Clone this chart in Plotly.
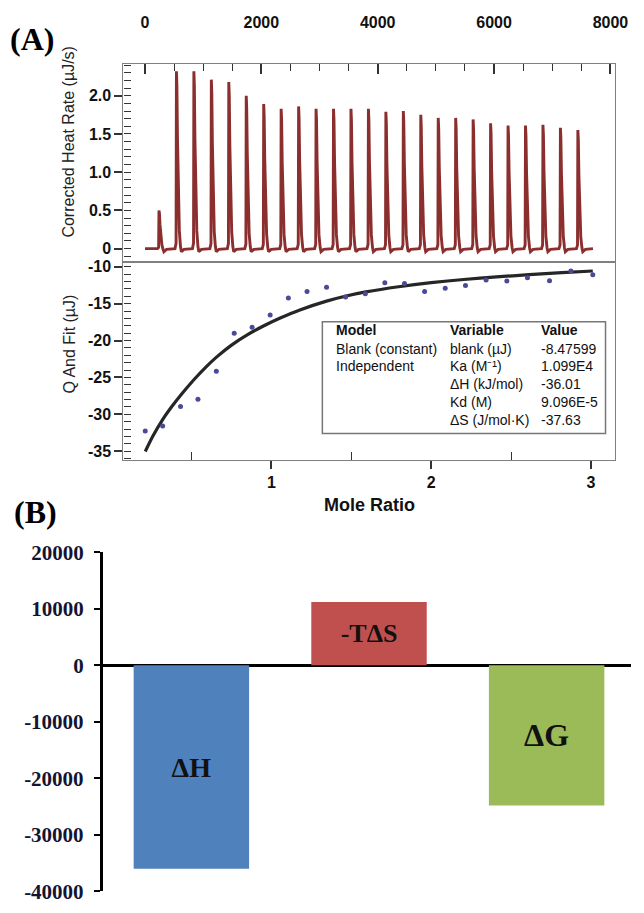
import plotly.graph_objects as go

# ---------------- Panel A (top): raw thermogram ----------------
inj_time = [240, 540, 840, 1140, 1440, 1740, 2040, 2340, 2640, 2940, 3240, 3540, 3840,
            4140, 4440, 4740, 5040, 5340, 5640, 5940, 6240, 6540, 6840, 7140, 7440]
inj_peak = [0.50, 2.32, 2.32, 2.21, 2.18, 2.00, 1.89, 1.83, 1.86, 1.83, 1.83, 1.83, 1.83,
            1.79, 1.80, 1.75, 1.71, 1.71, 1.69, 1.64, 1.61, 1.61, 1.62, 1.58, 1.55]
run_start = 0
run_end = 7700
# shape of one injection spike (time offset in s, fraction of peak, baseline dip)
spike_dt = [-25, -6, 0, 8, 18, 32, 50, 70, 85, 100, 130]
spike_fr = [0.0, 0.03, 1.0, 0.92, 0.62, 0.30, 0.10, 0.02, 0.0, 0.0, 0.0]
spike_dip = [0.0, 0.0, 0.0, 0.0, 0.0, 0.0, 0.0, -0.02, -0.04, -0.03, -0.01]

# ---------------- Panel A (bottom): integrated heats + fit ----------------
mole_ratio = [0.210, 0.319, 0.431, 0.540, 0.655, 0.767, 0.879, 0.992, 1.106, 1.223, 1.345, 1.464,
              1.588, 1.710, 1.833, 1.959, 2.088, 2.215, 2.344, 2.474, 2.603, 2.741, 2.875, 3.012]
q_heat = [-32.27, -31.60, -28.93, -27.96, -24.17, -19.02, -18.19, -16.55, -14.22, -13.34, -12.77, -14.09,
          -13.65, -12.15, -12.28, -13.34, -12.90, -12.55, -11.80, -11.93, -11.49, -11.89, -10.57, -11.06]
fit_x = [0.210, 0.258, 0.315, 0.380, 0.442, 0.513, 0.585, 0.656, 0.748, 0.851, 0.953, 1.055,
         1.178, 1.345, 1.468, 1.591, 1.796, 2.000, 2.204, 2.409, 2.613, 2.818, 3.012]
fit_y = [-35.04, -32.95, -30.85, -28.85, -27.15, -25.35, -23.70, -22.25, -20.65, -19.20, -18.00, -16.95,
         -15.85, -14.65, -13.95, -13.40, -12.70, -12.15, -11.72, -11.37, -11.07, -10.80, -10.57]

# fit results table
tbl_model = ["Model", "Blank (constant)", "Independent", "", "", ""]
tbl_variable = ["Variable", "blank (µJ)", "Ka (M⁻¹)", "ΔH (kJ/mol)", "Kd (M)", "ΔS (J/mol·K)"]
tbl_value = ["Value", "-8.47599", "1.099E4", "-36.01", "9.096E-5", "-37.63"]

# axis ticks
time_ticks = [0, 2000, 4000, 6000, 8000]
rate_ticks = [0, 0.5, 1.0, 1.5, 2.0]
rate_ticktext = ["0", "0.5", "1.0", "1.5", "2.0"]
q_ticks = [-35, -30, -25, -20, -15, -10]
q_ticktext = ["-35", "-30", "-25", "-20", "-15", "-10"]
mr_ticks = [1, 2, 3]
mr_minor = [0.5, 1.5, 2.5]

# ---------------- Panel B: thermodynamic signature ----------------
thermo_terms = ["ΔH", "-TΔS", "ΔG"]
thermo_values = [-36010, 11214, -24796]
thermo_colors = ["#4F81BD", "#C0504D", "#9BBB59"]
thermo_label_size = [28, 26, 32]
b_ticks = [20000, 10000, 0, -10000, -20000, -30000, -40000]
b_ticktext = ["20000", "10000", "0", "-10000", "-20000", "-30000", "-40000"]

# build thermogram trace from the injection list
tx, ty = [run_start], [0.0]
for t0, h in zip(inj_time, inj_peak):
    for dt, fr, dp in zip(spike_dt, spike_fr, spike_dip):
        tx.append(t0 + dt)
        ty.append(h * fr + dp)
tx.append(run_end)
ty.append(0.0)

W, H = 644, 913
def px(x):
    return x / W
def py(y):
    return 1 - y / H

SANS = "Liberation Sans, Arial, sans-serif"
SERIF = "Liberation Serif, Times New Roman, serif"
FRAME = "#808080"
TICKC = "#333333"

fig = go.Figure()
fig.add_trace(go.Scatter(x=tx, y=ty, mode="lines", xaxis="x2", yaxis="y2",
                         line=dict(color="#8B2E2E", width=2.9), hoverinfo="skip"))
fig.add_trace(go.Scatter(x=fit_x, y=fit_y, mode="lines", xaxis="x", yaxis="y",
                         line=dict(color="#262626", width=3.2, shape="spline", smoothing=0.6)))
fig.add_trace(go.Scatter(x=mole_ratio, y=q_heat, mode="markers", xaxis="x", yaxis="y",
                         marker=dict(color="#4a4a96", size=5)))
fig.add_trace(go.Bar(x=[0, 1, 2], y=thermo_values, xaxis="x3", yaxis="y3",
                     marker=dict(color=thermo_colors, line=dict(width=0)), width=0.65,
                     text=thermo_terms, textposition="inside", insidetextanchor="middle",
                     constraintext="none",
                     textfont=dict(family=SERIF, size=thermo_label_size, color="#111111", weight="bold")))

dom_x = [px(126), px(628)]
tickfont_a = dict(family=SANS, size=16, color="#111111", weight="bold")

fig.update_layout(
    width=W, height=H, margin=dict(l=0, r=0, t=0, b=0),
    paper_bgcolor="white", plot_bgcolor="white", showlegend=False,
    xaxis=dict(domain=dom_x, anchor="y", range=[0.0736, 3.153],
               tickmode="array", tickvals=mr_ticks, ticks="outside", ticklen=8, tickwidth=1.5,
               tickcolor=TICKC, tickfont=dict(family=SANS, size=16, color="#111111", weight="bold"),
               minor=dict(tickmode="array", tickvals=mr_minor, ticks="inside", ticklen=8,
                          tickwidth=1.2, tickcolor=TICKC),
               showline=True, mirror=True, linecolor=FRAME, linewidth=1.2,
               showgrid=False, zeroline=False, ticklabeloverflow="allow"),
    yaxis=dict(domain=[py(460), py(257)], anchor="x", range=[-36.19, -9.38],
               tickmode="array", tickvals=q_ticks, ticktext=q_ticktext, ticks="outside", ticklen=8,
               tickwidth=1.5, tickcolor=TICKC, tickfont=tickfont_a,
               minor=dict(dtick=1, ticks="inside", ticklen=7, tickwidth=1.2, tickcolor=TICKC),
               showline=True, mirror=True, linecolor=FRAME, linewidth=1.2,
               showgrid=False, zeroline=False, ticklabeloverflow="allow"),
    xaxis2=dict(domain=dom_x, anchor="y2", side="top", range=[-370.5, 8084],
                tickmode="array", tickvals=time_ticks, ticks="inside", ticklen=10, tickwidth=1.5,
                tickcolor=TICKC, tickfont=tickfont_a, ticklabelstandoff=28,
                minor=dict(dtick=500, tick0=0, ticks="inside", ticklen=7, tickwidth=1.2, tickcolor=TICKC),
                showline=True, mirror=True, linecolor=FRAME, linewidth=1.2,
                showgrid=False, zeroline=False, ticklabeloverflow="allow"),
    yaxis2=dict(domain=[py(257), py(53)], anchor="x2", range=[-0.178, 2.42],
                tickmode="array", tickvals=rate_ticks, ticktext=rate_ticktext, ticks="outside",
                ticklen=8, tickwidth=1.5, tickcolor=TICKC, tickfont=tickfont_a,
                minor=dict(dtick=0.1, tick0=0, ticks="inside", ticklen=7, tickwidth=1.2, tickcolor=TICKC),
                showline=True, mirror=True, linecolor=FRAME, linewidth=1.2,
                showgrid=False, zeroline=False, ticklabeloverflow="allow"),
    xaxis3=dict(domain=[px(104.7), 1.0], anchor="y3", range=[-0.5, 2.475],
                showticklabels=False, ticks="", showline=False, showgrid=False, zeroline=False),
    yaxis3=dict(domain=[py(903), py(555)], anchor="x3", range=[-40000, 20000],
                tickmode="array", tickvals=b_ticks, ticktext=b_ticktext, ticks="outside",
                ticklen=6, tickwidth=2, tickcolor="black",
                tickfont=dict(family=SERIF, size=21, color="#141432", weight="bold"),
                ticklabelstandoff=6, ticklabeloverflow="allow",
                showline=True, linecolor="black", linewidth=2.5,
                showgrid=False, zeroline=True, zerolinecolor="black", zerolinewidth=2.5),
)

ann = []
ann.append(dict(text="(A)", x=px(8), y=py(28), xanchor="left", yanchor="middle",
                font=dict(family=SERIF, size=32, color="black", weight="bold")))
ann.append(dict(text="(B)", x=px(12), y=py(513), xanchor="left", yanchor="middle",
                font=dict(family=SERIF, size=32, color="black", weight="bold")))
ann.append(dict(text="Corrected Heat Rate (µJ/s)", x=px(69.5), y=py(133), textangle=-90,
                xanchor="center", yanchor="middle", font=dict(family=SANS, size=16, color="#222222")))
ann.append(dict(text="Q And Fit (µJ)", x=px(70), y=py(341), textangle=-90,
                xanchor="center", yanchor="middle", font=dict(family=SANS, size=16, color="#222222")))
ann.append(dict(text="Mole Ratio", x=px(377), y=py(506), xanchor="center", yanchor="middle",
                font=dict(family=SANS, size=18, color="#111111", weight="bold")))

col_x = [341, 457, 550]
row_y = [327, 346, 364, 382, 401, 419]
for i in range(len(row_y)):
    for cx, col in zip(col_x, [tbl_model, tbl_variable, tbl_value]):
        if col[i] == "":
            continue
        ann.append(dict(text=col[i], x=px(cx), y=py(row_y[i]), xanchor="left", yanchor="middle",
                        font=dict(family=SANS, size=14, color="#111111",
                                  weight="bold" if i == 0 else "normal")))
for a in ann:
    a.update(xref="paper", yref="paper", showarrow=False)
fig.update_layout(annotations=ann)

fig.update_layout(shapes=[dict(type="rect", xref="paper", yref="paper",
                               x0=px(329), x1=px(618), y0=py(433), y1=py(318),
                               line=dict(color="#777777", width=1.5), fillcolor="white")])

fig.write_html("out.html")
